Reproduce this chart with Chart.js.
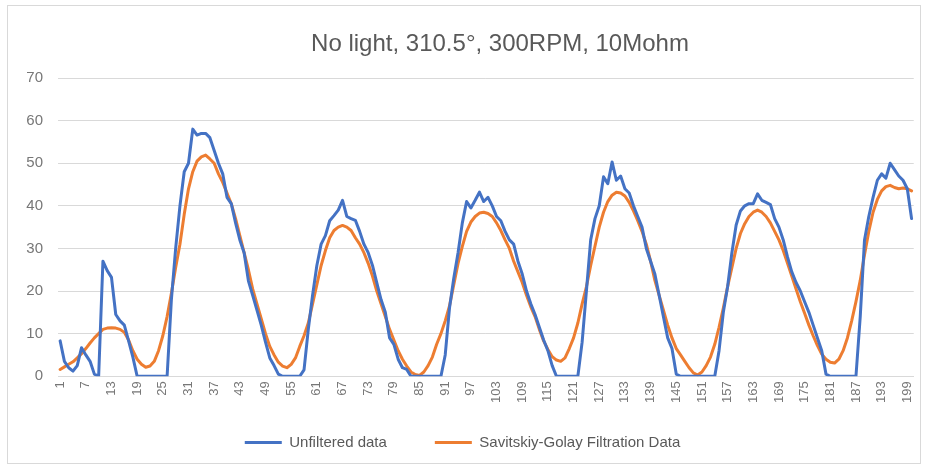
<!DOCTYPE html>
<html>
<head>
<meta charset="utf-8">
<title>No light, 310.5°, 300RPM, 10Mohm</title>
<script src="https://cdn.jsdelivr.net/npm/chart.js@4.4.1/dist/chart.umd.min.js"></script>
<style>
  html, body { margin: 0; padding: 0; background: #fff; }
  #wrap { width: 928px; height: 468px; }
</style>
</head>
<body>
<div id="wrap"><canvas id="sgChart" width="928" height="468"></canvas></div>
<script>
// Sample index 1..200 along the x axis
const samples = Array.from({ length: 200 }, (_, i) => String(i + 1));

// Raw sensor readings
const unfiltered = [
  8.3, 3.5, 2, 1.2, 2.5, 6.7, 5, 3.5, 0.5, 0,
  27, 24.8, 23.2, 14.5, 13, 12, 8.3, 4.5, 0, 0,
  0, 0, 0, 0, 0, 0, 18, 30, 40, 48,
  50, 58, 56.6, 57, 57, 56, 53, 50, 47.5, 42,
  40.5, 36, 32, 29, 22.4, 19, 15.5, 12, 8, 4.3,
  2.5, 0.5, 0, 0, 0, 0, 0, 1.5, 11, 19,
  26, 31, 33, 36.5, 37.7, 39, 41.3, 37.5, 37, 36.6,
  34, 31, 29, 26, 22, 18, 15, 9, 7.5, 4,
  2, 1.6, 0, 0, 0, 0, 0, 0, 0, 0,
  5, 16, 23, 29, 36, 41, 39.5, 41.3, 43.2, 41,
  42, 40, 37.5, 36.5, 34, 32, 31, 27, 24, 20,
  17, 14.5, 11.5, 8.5, 6, 2.5, 0, 0, 0, 0,
  0, 0, 8, 20, 32, 37, 40, 46.8, 45.2, 50.3,
  46, 47, 44, 43, 40, 37.5, 35, 30, 27, 24,
  19, 14, 9, 6.5, 0.5, 0, 0, 0, 0, 0,
  0, 0, 0, 0, 6, 15, 21, 29, 35.5, 38.8,
  40, 40.5, 40.5, 42.8, 41.3, 40.8, 40.3, 37, 35, 32,
  28, 24.5, 22, 20, 17.5, 15, 12, 9, 6, 0.5,
  0, 0, 0, 0, 0, 0, 0, 14, 32, 37.5,
  42, 46, 47.5, 46.5, 50, 48.5, 47, 46, 44, 37
];

// Savitzky-Golay smoothed readings
const filtered = [
  1.6, 2.2, 2.8, 3.4, 4.3, 5.3, 6.5, 7.8, 9, 10,
  11, 11.3, 11.4, 11.3, 11, 10.3, 8.5, 6, 4, 2.8,
  2.1, 2.4, 3.5, 6, 9.5, 14, 19.5, 25.5, 31, 38,
  44, 48, 50.5, 51.5, 51.9, 51, 50, 47.5, 45.5, 43,
  40.5, 37, 33, 29, 25, 20.5, 17, 13.5, 10, 7,
  5, 3.3, 2.4, 2, 2.8, 4.3, 7, 9.5, 12.5, 17,
  21.5, 26, 29.5, 32.5, 34.2, 35, 35.4, 35, 34.2, 32.5,
  31, 29, 26.5, 23.5, 20, 17, 14, 11, 8.5, 6,
  4, 2.4, 1, 0.4, 0.2, 1, 2.5, 4.5, 7.5, 10,
  13, 16.5, 21.5, 26.5, 30.5, 34, 36.2, 37.5, 38.3, 38.5,
  38.2, 37.5, 36, 34.2, 32, 30, 27, 24.5, 22, 19,
  16.3, 14, 11, 8.3, 6.3, 4.6, 3.8, 3.5, 4.3, 6.5,
  9, 12.5, 17, 21, 26, 30.5, 35, 38.5, 41, 42.5,
  43.2, 43, 42.3, 40.8, 38.8, 36.5, 34, 31, 27, 22.5,
  19, 15.5, 12, 9, 6.5, 5, 3.5, 2, 0.8, 0.3,
  1, 2.5, 4.5, 7.5, 11.5, 16, 21, 25.5, 30, 33.5,
  35.8, 37.5, 38.5, 39, 38.5, 37.5, 36, 34, 32, 29.5,
  26.5, 23.5, 20.5, 17.5, 14.8, 12, 9.5, 7.2, 5.2, 4,
  3.3, 3.1, 4, 6, 9, 13, 17.5, 22.5, 28.5, 34,
  38.5, 41.5, 43.5, 44.5, 44.8, 44.3, 44, 44.2, 44, 43.5
];

// Value axis ticks
const yTicks = [0, 10, 20, 30, 40, 50, 60, 70];

const TITLE = 'No light, 310.5°, 300RPM, 10Mohm';
const FONT = "'Liberation Sans', Arial, sans-serif";

// Frame, title and room for the rotated sample labels
const chartDecor = {
  id: 'chartDecor',
  beforeDraw(chart) {
    const ctx = chart.ctx;
    ctx.save();
    ctx.fillStyle = '#ffffff';
    ctx.fillRect(0, 0, chart.width, chart.height);
    ctx.strokeStyle = '#d9d9d9';
    ctx.lineWidth = 1;
    ctx.strokeRect(7.5, 5.5, 913, 458);
    ctx.restore();
  },
  afterLayout(chart) {
    // let the vertical tick labels hang below the thin axis box without clipping
    const x = chart.scales.x;
    x.bottom = x.top + 32;
    x.height = 32;
  },
  afterDraw(chart) {
    const ctx = chart.ctx;
    ctx.save();
    ctx.fillStyle = '#595959';
    ctx.font = '24px ' + FONT;
    ctx.textAlign = 'center';
    ctx.textBaseline = 'middle';
    ctx.fillText(TITLE, 500, 44);
    ctx.restore();
  }
};

new Chart(document.getElementById('sgChart'), {
  type: 'line',
  data: {
    labels: samples,
    datasets: [
      {
        label: 'Unfiltered data',
        data: unfiltered,
        borderColor: '#4472c4',
        backgroundColor: '#4472c4',
        borderWidth: 3,
        pointRadius: 0,
        borderJoinStyle: 'round',
        borderCapStyle: 'round',
        tension: 0
      },
      {
        label: 'Savitskiy-Golay Filtration Data',
        data: filtered,
        borderColor: '#ed7d31',
        backgroundColor: '#ed7d31',
        borderWidth: 3,
        pointRadius: 0,
        borderJoinStyle: 'round',
        borderCapStyle: 'round',
        tension: 0
      }
    ]
  },
  options: {
    responsive: false,
    animation: false,
    layout: {
      padding: { left: 10, right: 13, top: 78, bottom: 8 }
    },
    plugins: {
      title: { display: false },
      legend: {
        position: 'bottom',
        labels: {
          usePointStyle: true,
          pointStyle: 'line',
          pointStyleWidth: 37,
          padding: 48,
          color: '#595959',
          font: { family: FONT, size: 15 }
        }
      },
      tooltip: { enabled: false }
    },
    scales: {
      x: {
        offset: true,
        grid: { display: false, drawTicks: false },
        border: { display: true, color: '#d9d9d9', width: 1 },
        ticks: {
          autoSkip: false,
          minRotation: 90,
          maxRotation: 90,
          padding: 5,
          color: '#777777',
          font: { family: FONT, size: 13 },
          callback: (v, i) => (i % 6 === 0 ? samples[i] : null)
        },
        afterFit: (s) => { s.height = 10.75; }
      },
      y: {
        min: yTicks[0],
        max: yTicks[yTicks.length - 1],
        grid: { color: '#d9d9d9', drawTicks: false },
        border: { display: false },
        ticks: {
          stepSize: yTicks[1] - yTicks[0],
          padding: 15,
          color: '#777777',
          font: { family: FONT, size: 15 }
        },
        afterFit: (s) => { s.width = 48; }
      }
    }
  },
  plugins: [chartDecor]
});
</script>
</body>
</html>
